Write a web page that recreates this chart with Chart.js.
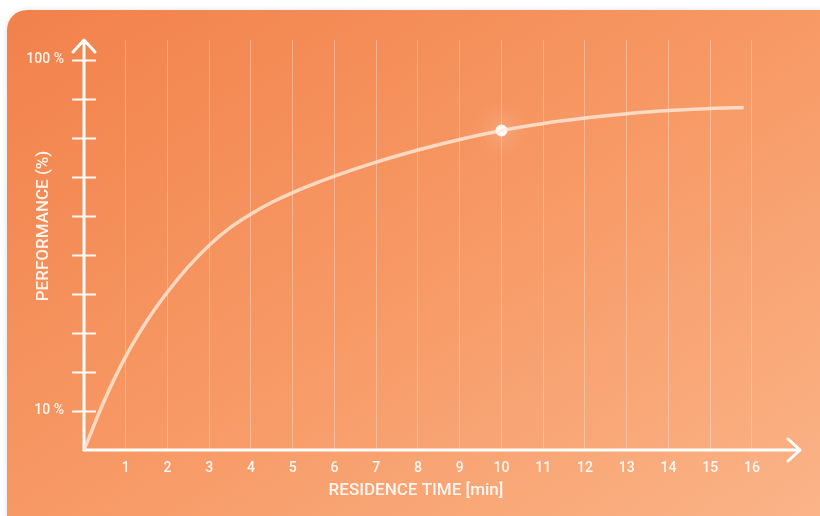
<!DOCTYPE html>
<html>
<head>
<meta charset="utf-8">
<script src="https://cdn.jsdelivr.net/npm/chart.js@4.4.1/dist/chart.umd.min.js"></script>
<style>
  html, body { margin: 0; padding: 0; background: #fff; width: 820px; height: 516px; overflow: hidden; }
  .card {
    position: absolute; left: 7px; top: 10px; width: 840px; height: 540px;
    border-radius: 20px;
    background: linear-gradient(to bottom right, #f2814b 0%, #f79a66 50%, #fbb68b 100%);
    box-shadow: 0 1px 6px rgba(0, 0, 0, 0.14);
  }
  #wrap { position: absolute; left: 0; top: 0; width: 820px; height: 516px; }
</style>
</head>
<body>
<div class="card"></div>
<div id="wrap"><canvas id="myChart" width="820" height="516"></canvas></div>
<script>
// residence time (min) and performance (%)
const timeMin = [0, 0.5, 1, 1.5, 2, 2.5, 3, 3.5, 4, 4.5, 5, 6, 7, 8, 9, 10, 11, 12, 13, 14, 15, 15.8];
const performance = [0, 13, 24, 33, 40.5, 47, 52.5, 57.0, 60.5, 63.5, 66, 70.2, 73.8, 76.9, 79.6, 81.9, 83.7, 85.1, 86.2, 87.0, 87.55, 87.8];
const highlightTime = [10];
const highlightPerf = [81.9];
const yLabels = [10, 100];
const X_TITLE = 'RESIDENCE TIME [min]';
const Y_TITLE = 'PERFORMANCE (%)';

const WHITE_TEXT = 'rgba(255,255,255,0.9)';
const FONT = 'Roboto';

function toPoints(xs, ys) {
  return xs.map((x, i) => ({ x: x, y: ys[i] }));
}

// axes with arrow heads, crossing tick marks and axis titles
const axisDecor = {
  id: 'axisDecor',
  beforeDatasetsDraw(chart) {
    const { ctx, chartArea: a, scales: { x, y } } = chart;
    const x0 = x.getPixelForValue(0);
    const y0 = y.getPixelForValue(0);
    ctx.save();
    ctx.strokeStyle = 'rgba(255,255,255,0.95)';
    ctx.lineWidth = 2;
    y.ticks.forEach(t => {
      if (t.value <= 0 || t.value > 100) return;
      const py = Math.round(y.getPixelForValue(t.value)) + 0.5;
      ctx.beginPath();
      ctx.moveTo(x0 - 12, py);
      ctx.lineTo(x0 + 12, py);
      ctx.stroke();
    });
    ctx.strokeStyle = '#fff';
    ctx.lineWidth = 3;
    ctx.lineCap = 'round';
    ctx.lineJoin = 'round';
    ctx.beginPath();
    ctx.moveTo(x0, y0);
    ctx.lineTo(x0, a.top);
    ctx.moveTo(x0 - 11, a.top + 12);
    ctx.lineTo(x0, a.top);
    ctx.lineTo(x0 + 11, a.top + 12);
    ctx.stroke();
    ctx.beginPath();
    ctx.moveTo(x0, y0);
    ctx.lineTo(a.right, y0);
    ctx.moveTo(a.right - 12, y0 - 11);
    ctx.lineTo(a.right, y0);
    ctx.lineTo(a.right - 12, y0 + 11);
    ctx.stroke();
    ctx.restore();
  },
  beforeDatasetDraw(chart, args) {
    if (args.index !== 1) return;
    chart.ctx.save();
    chart.ctx.shadowColor = 'rgba(255,255,255,1)';
    chart.ctx.shadowBlur = 26;
  },
  afterDatasetDraw(chart, args) {
    if (args.index !== 1) return;
    chart.ctx.restore();
  },
  afterDraw(chart) {
    const { ctx, chartArea: a } = chart;
    ctx.save();
    ctx.fillStyle = WHITE_TEXT;
    ctx.font = '500 17px ' + FONT;
    ctx.textAlign = 'center';
    ctx.textBaseline = 'middle';
    ctx.fillText(X_TITLE, 416, a.bottom + 41);
    ctx.translate(44, 226);
    ctx.rotate(-Math.PI / 2);
    ctx.fillText(Y_TITLE, 0, 0);
    ctx.restore();
  }
};

const ctx = document.getElementById('myChart');

new Chart(ctx, {
  type: 'line',
  data: {
    datasets: [{
      data: toPoints(timeMin, performance),
      borderColor: 'rgba(255,236,222,0.78)',
      borderWidth: 3.5,
      pointRadius: 0,
      cubicInterpolationMode: 'monotone',
      fill: false
    }, {
      data: toPoints(highlightTime, highlightPerf),
      showLine: false,
      pointRadius: 5.5,
      pointBackgroundColor: '#fff',
      pointBorderColor: '#fff',
      pointBorderWidth: 1
    }]
  },
  options: {
    responsive: false,
    animation: false,
    layout: { padding: { left: 0, top: 40, right: 20, bottom: 0 } },
    plugins: { legend: { display: false }, tooltip: { enabled: false } },
    scales: {
      x: {
        type: 'linear',
        min: 0,
        max: 17.15,
        afterFit(s) { s.height = 66; },
        border: { display: false },
        grid: {
          drawTicks: false,
          lineWidth: 1,
          color: c => (c.tick && c.tick.value >= 1 && c.tick.value <= 16 && Number.isInteger(c.tick.value)) ? 'rgba(255,255,255,0.3)' : 'rgba(0,0,0,0)'
        },
        ticks: {
          stepSize: 1,
          autoSkip: false,
          maxRotation: 0,
          padding: 10,
          color: WHITE_TEXT,
          font: { family: FONT, size: 14, weight: '500' },
          callback: v => (v >= 1 && v <= 16 && Number.isInteger(v)) ? String(v) : ''
        }
      },
      y: {
        type: 'linear',
        min: 0,
        max: 105.1,
        afterFit(s) { s.width = 84; },
        border: { display: false },
        grid: { display: false, drawTicks: false },
        ticks: {
          stepSize: 10,
          autoSkip: false,
          padding: 20,
          color: WHITE_TEXT,
          font: { family: FONT, size: 14, weight: '500' },
          callback: v => yLabels.includes(v) ? v + ' %' : ''
        }
      }
    }
  },
  plugins: [axisDecor]
});
</script>
</body>
</html>
